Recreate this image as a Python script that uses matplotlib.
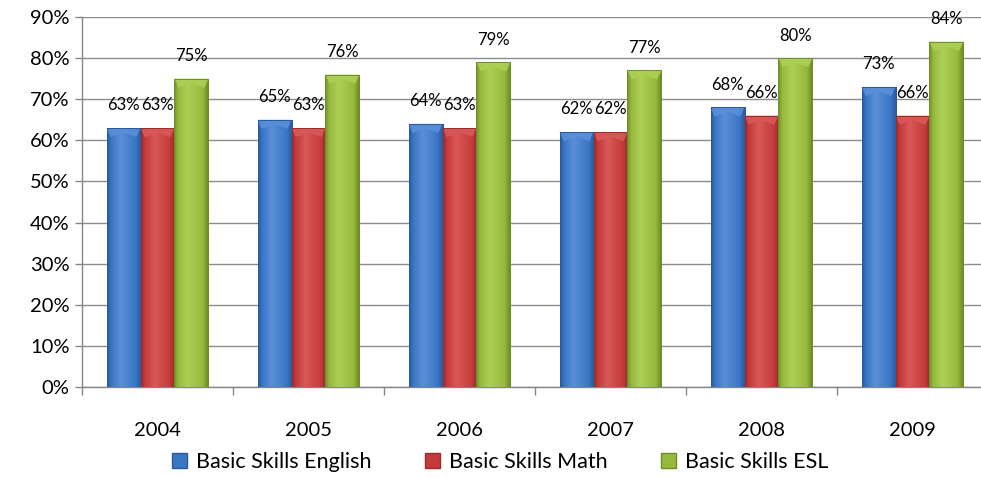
import numpy as np
import matplotlib
matplotlib.use('Agg')
import matplotlib.pyplot as plt
from matplotlib.colors import LinearSegmentedColormap
from matplotlib.patches import Polygon, Patch

plt.rcParams['font.family'] = ['Lato', 'DejaVu Sans']

# donnees
annees = ['2004', '2005', '2006', '2007', '2008', '2009']
series = ['Basic Skills English', 'Basic Skills Math', 'Basic Skills ESL']
english = [63, 65, 64, 62, 68, 73]
math = [63, 63, 63, 62, 66, 66]
esl = [75, 76, 79, 77, 80, 84]

couleurs = ['#3a76c6', '#c53b3b', '#97ba3e']
sombres = ['#2a5a9c', '#9a2b2b', '#6f8e27']
clairs = ['#5a8fd8', '#d85858', '#acd055']

fig = plt.figure(figsize=(9.81, 4.78), dpi=100)
ax = fig.add_axes([82 / 981, 1 - 387 / 478, 906 / 981, 370 / 478])

x = np.arange(len(annees))
largeur = 0.225
valeurs = [english, math, esl]

for i, vals in enumerate(valeurs):
    pos = x + (i - 1) * largeur
    bars = ax.bar(pos, vals, width=largeur, color=couleurs[i],
                  edgecolor=sombres[i], linewidth=0.6, zorder=3)
    cmap = LinearSegmentedColormap.from_list(
        'g', [(0, sombres[i]), (0.12, couleurs[i]), (0.4, clairs[i]),
              (0.85, couleurs[i]), (1, sombres[i])])
    grad = np.linspace(0, 1, 64).reshape(1, -1)
    for b, v in zip(bars, vals):
        x0, w = b.get_x(), b.get_width()
        im = ax.imshow(grad, cmap=cmap, aspect='auto',
                       extent=[x0, x0 + w, 0, v], zorder=3.5,
                       interpolation='bicubic')
        im.set_clip_path(b)
        # biseau du haut
        h = 2.2
        d = w * 0.12
        ax.add_patch(Polygon([[x0, v], [x0 + w, v], [x0 + w - d, v - h],
                              [x0 + w / 2, v - h * 0.5], [x0 + d, v - h]],
                             closed=True, facecolor=clairs[i], edgecolor='none',
                             alpha=0.9, zorder=4))
        ax.add_patch(Polygon([[x0, v], [x0 + w, v], [x0 + w, 0], [x0, 0]],
                             closed=True, facecolor='none',
                             edgecolor=sombres[i], linewidth=0.7, zorder=4.5))
        ax.text(x0 + w / 2, v + 5.5, f'{v}%', ha='center', va='center',
                fontsize=12, zorder=5)

ax.set_xlim(-0.5, len(annees) - 0.5)
ax.set_ylim(0, 90)
ax.set_yticks(np.arange(0, 91, 10))
ax.set_yticklabels([f'{t}%' for t in range(0, 91, 10)], fontsize=14.5)
ax.set_xticks(x)
ax.set_xticklabels(annees, fontsize=14.5)
ax.set_xticks(np.arange(-0.5, len(annees), 1), minor=True)
ax.tick_params(axis='x', which='major', length=0, pad=25)
ax.tick_params(axis='x', which='minor', length=6, color='#868686', width=1)
ax.tick_params(axis='y', length=5, color='#868686', width=1, pad=4)

ax.yaxis.grid(True, color='#8c8c8c', linewidth=1, zorder=0)
ax.set_axisbelow(True)
for cote in ['top', 'right']:
    ax.spines[cote].set_visible(False)
for cote in ['left', 'bottom']:
    ax.spines[cote].set_color('#868686')
    ax.spines[cote].set_linewidth(1)

handles = [Patch(facecolor=couleurs[i], edgecolor=sombres[i]) for i in range(3)]
fig.legend(handles, series, loc='center', bbox_to_anchor=(500 / 981, 1 - 462 / 478),
           ncol=3, frameon=False, fontsize=15.5, handlelength=0.7, handleheight=0.7,
           handletextpad=0.4, columnspacing=2.5)

fig.savefig('out.png', dpi=100)
